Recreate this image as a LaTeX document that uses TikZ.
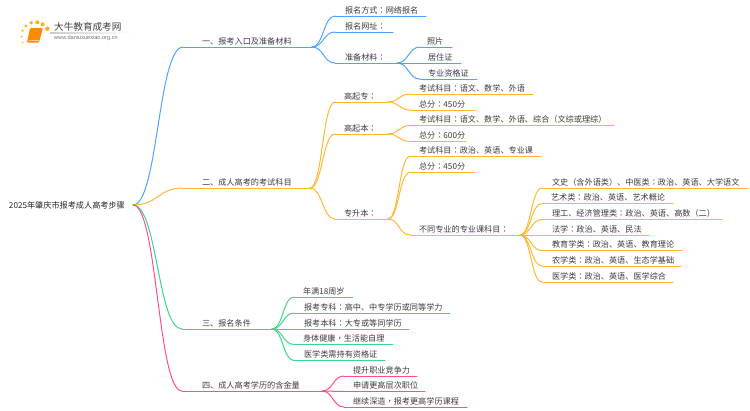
\documentclass[tikz,border=0pt]{standalone}
\usepackage{fontspec}
\setmainfont{Noto Sans CJK SC}
\newfontfamily\tcfont{Noto Sans CJK TC}
\setsansfont{Liberation Sans}
\usetikzlibrary{calc}
\definecolor{cblue}{HTML}{4DA3FF}
\definecolor{corange}{HTML}{FFB733}
\definecolor{cgreen}{HTML}{3DD68C}
\definecolor{cpink}{HTML}{FF4D94}
\definecolor{ctext}{HTML}{3C3C3C}
\newcommand{\cn}{{\tcfont ：}}
\newcommand{\cm}{{\tcfont ，}}
\newcommand{\lp}{{\tcfont （}}
\newcommand{\rp}{{\tcfont ）}}
\tikzset{
  leaf/.style={inner xsep=0pt,inner ysep=1.3pt,outer sep=0pt,anchor=south west,align=left,
    text height=7.5pt,text depth=1.5pt,font=\fontsize{8.15}{9}\selectfont,text=ctext},
  conn/.style={line width=1pt,line cap=round},
  rootnode/.style={inner sep=0pt,outer sep=0pt,anchor=west,align=left,font=\fontsize{8.15}{9}\selectfont,text=black!85},
}
% name, colour, x start, x end, line y, text offset, text
\newcommand{\leafnode}[7]{%
  \pgfmathsetlengthmacro{\lw}{(#4-#3)*1pt}%
  \node[leaf,text width=\lw] (#1) at (#3,#5) {\hspace*{#6pt}#7};%
  \draw[conn,#2] (#1.south west) -- (#1.south east);%
}
\newcommand{\linkto}[4][south east]{% anchor, colour, parent, child
  \path ($(#3.#1)!.5!(#4.south west)$) coordinate (mm);%
  \draw[conn,#2] (#3.#1) .. controls (mm |- #3.#1) and (mm |- #4.south west) .. (#4.south west);%
}
\begin{document}
\begin{tikzpicture}[x=1pt,y=-1pt]
\useasboundingbox (0,0) rectangle (750,410);
% logo
\foreach \px/\py/\r in {22.7/30.7/1.2,26/26/1.6,31.3/22.7/1.9,37.3/22.3/2,42.7/24.3/2,47.3/28.7/2.2,21.7/36.7/1,22.7/42.3/.8}
  \fill[color=orange!60!yellow] (\px,\py) circle (\r);
\fill[color=orange!90!yellow,rounded corners=1pt] (30,28) -- (43,28) -- (39,42.5) -- (27,42.5) -- cycle;
\draw[orange!40!white,line width=.5pt] (28.5,40) -- (38.5,40);
\shade[left color=black!20,right color=white] (50,32.9) rectangle (133,33.4);
\node[inner sep=0pt,anchor=west,font=\fontsize{9.6}{10}\selectfont,text=black!75] (logotitle) at (54,27) {大牛教育成考网};
\node[inner sep=0pt,anchor=west,font=\sffamily\fontsize{5.6}{6}\selectfont,text=black!55] (logourl) at (54,38.5) {www.daniuxuexiao.org.cn};
% root
\node[rootnode,text width=124pt] (root) at (9,205) {2025年肇庆市报考成人高考步骤};
% level 1
\leafnode{a}{cblue}{183}{312}{47}{19}{一、报考入口及准备材料}
\leafnode{b}{corange}{183}{310}{188}{19}{二、成人高考的考试科目}
\leafnode{c}{cgreen}{182}{272}{329}{20}{三、报名条件}
\leafnode{d}{cpink}{182}{322}{391}{20}{四、成人高考学历的含金量}
\foreach \ch/\co in {a/cblue,b/corange,c/cgreen,d/cpink}{
  \path ($(root.east)!.5!(\ch.south west)$) coordinate (mm);
  \draw[conn,\co] (root.east) .. controls (mm |- root.east) and (mm |- \ch.south west) .. (\ch.south west);
}
% branch a
\leafnode{a1}{cblue}{335}{426}{16}{10}{报名方式\cn 网络报名}
\leafnode{a2}{cblue}{335}{393}{32}{10}{报名网址\cn}
\leafnode{a3}{cblue}{335}{397}{63}{10}{准备材料\cn}
\linkto{cblue}{a}{a1}\linkto{cblue}{a}{a2}\linkto{cblue}{a}{a3}
\leafnode{a31}{cblue}{420}{452}{47}{7}{照片}
\leafnode{a32}{cblue}{420}{461}{63}{8}{居住证}
\leafnode{a33}{cblue}{420}{477}{79}{8}{专业资格证}
\linkto{cblue}{a3}{a31}\linkto{cblue}{a3}{a32}\linkto{cblue}{a3}{a33}
% branch b
\leafnode{b1}{corange}{335}{388}{102}{9}{高起专\cn}
\leafnode{b2}{corange}{335}{388}{134}{9}{高起本\cn}
\leafnode{b3}{corange}{335}{388}{219}{9}{专升本\cn}
\linkto{corange}{b}{b1}\linkto{corange}{b}{b2}\linkto{corange}{b}{b3}
\leafnode{b11}{corange}{410}{533}{94}{9}{考试科目\cn 语文、数学、外语}
\leafnode{b12}{corange}{410}{475}{110}{9}{总分\cn 450分}
\linkto{corange}{b1}{b11}\linkto{corange}{b1}{b12}
\leafnode{b21}{corange}{410}{614}{125.5}{9}{考试科目\cn 语文、数学、外语、综合\lp 文综或理综\rp}
\leafnode{b22}{corange}{410}{466}{141.5}{9}{总分\cn 600分}
\linkto{corange}{b2}{b21}\linkto{corange}{b2}{b22}
\leafnode{b31}{corange}{410}{541}{156.5}{9}{考试科目\cn 政治、英语、专业课}
\leafnode{b32}{corange}{410}{475}{172.5}{9}{总分\cn 450分}
\leafnode{b33}{corange}{410}{520}{235}{9}{不同专业的专业课科目\cn}
\linkto{corange}{b3}{b31}\linkto{corange}{b3}{b32}\linkto{corange}{b3}{b33}
\leafnode{s1}{corange}{542}{748}{188}{10}{文史\lp 含外语类\rp 、中医类\cn 政治、英语、大学语文}
\leafnode{s2}{corange}{542}{673}{203.5}{9}{艺术类\cn 政治、英语、艺术概论}
\leafnode{s3}{corange}{542}{722}{219.5}{10}{理工、经济管理类\cn 政治、英语、高数\lp 二\rp}
\leafnode{s4}{corange}{542}{649}{235}{10}{法学\cn 政治、英语、民法}
\leafnode{s5}{corange}{542}{682}{250.5}{10}{教育学类\cn 政治、英语、教育理论}
\leafnode{s6}{corange}{542}{681}{266}{10}{农学类\cn 政治、英语、生态学基础}
\leafnode{s7}{corange}{542}{673}{282}{10}{医学类\cn 政治、英语、医学综合}
\foreach \k in {s1,s2,s3,s4,s5,s6,s7}{\linkto{corange}{b33}{\k}}
% branch c
\leafnode{c1}{cgreen}{294}{353}{297}{9}{年满18周岁}
\leafnode{c2}{cgreen}{294}{450}{313}{10}{报考专科\cn 高中、中专学历或同等学力}
\leafnode{c3}{cgreen}{294}{409}{329}{10}{报考本科\cn 大专或等同学历}
\leafnode{c4}{cgreen}{294}{393}{344.5}{9}{身体健康\cm 生活能自理}
\leafnode{c5}{cgreen}{294}{385}{360.5}{10}{医学类需持有资格证}
\foreach \k in {c1,c2,c3,c4,c5}{\linkto{cgreen}{c}{\k}}
% branch d
\leafnode{d1}{cpink}{344}{417}{376}{9}{提升职业竞争力}
\leafnode{d2}{cpink}{344}{425}{391.5}{9}{申请更高层次职位}
\leafnode{d3}{cpink}{344}{467}{407}{9}{继续深造\cm 报考更高学历课程}
\foreach \k in {d1,d2,d3}{\linkto{cpink}{d}{\k}}
\end{tikzpicture}
\end{document}
